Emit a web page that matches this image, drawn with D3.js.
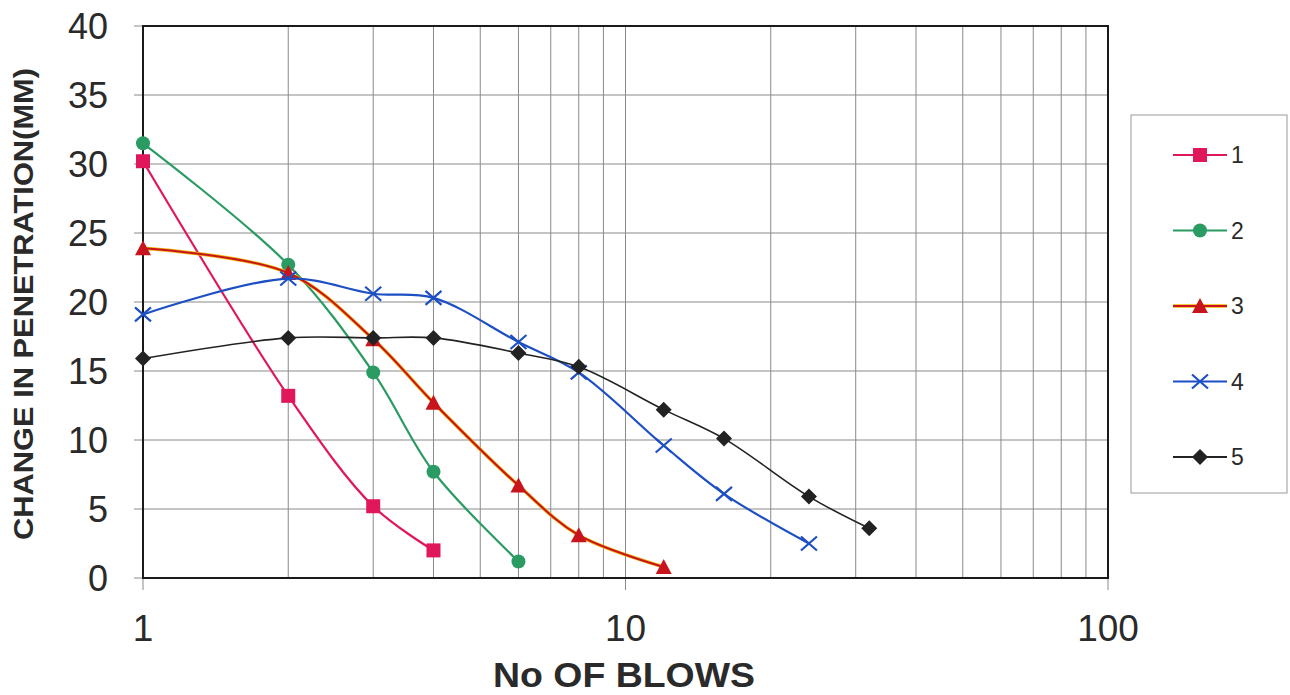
<!DOCTYPE html>
<html><head><meta charset="utf-8">
<script src="https://cdn.jsdelivr.net/npm/d3@7"></script>
<style>body{margin:0;background:#fff;}svg{display:block;font-family:"Liberation Sans",Arial,sans-serif;}</style>
</head><body>
<svg id="c" width="1290" height="695"></svg>
<script>
const blows1 = [1, 2, 3, 4];
const pen1 = [30.2, 13.2, 5.2, 2.0];
const blows2 = [1, 2, 3, 4, 6];
const pen2 = [31.5, 22.7, 14.9, 7.7, 1.2];
const blows3 = [1, 2, 3, 4, 6, 8, 12];
const pen3 = [23.9, 22.1, 17.3, 12.7, 6.7, 3.1, 0.8];
const blows4 = [1, 2, 3, 4, 6, 8, 12, 16, 24];
const pen4 = [19.1, 21.7, 20.6, 20.3, 17.1, 14.9, 9.6, 6.1, 2.5];
const blows5 = [1, 2, 3, 4, 6, 8, 12, 16, 24, 32];
const pen5 = [15.9, 17.4, 17.4, 17.4, 16.3, 15.3, 12.2, 10.1, 5.9, 3.6];
const seriesNames = ["1", "2", "3", "4", "5"];
const yTicks = [0, 5, 10, 15, 20, 25, 30, 35, 40];
const xTicks = [1, 10, 100];
const xTitle = "No OF BLOWS";
const yTitle = "CHANGE IN PENETRATION(MM)";

const svg = d3.select("#c");
const L = 143, R = 1108, T = 26, B = 578;
const x = d3.scaleLog().domain([1, 100]).range([L, R]);
const y = d3.scaleLinear().domain([0, 40]).range([B, T]);

const styles = [
  {color: "#e0175a", marker: "square"},
  {color: "#2a9b62", marker: "circle"},
  {color: "#c8141c", under: "#f0b400", marker: "triangle"},
  {color: "#1d4fc4", marker: "x"},
  {color: "#222222", marker: "diamond"}
];
const series = [
  [blows1, pen1], [blows2, pen2], [blows3, pen3], [blows4, pen4], [blows5, pen5]
].map((s, i) => ({name: seriesNames[i], pts: s[0].map((b, j) => [b, s[1][j]]), ...styles[i]}));

// grid
const minor = [];
for (let d = 1; d < 100; d *= 10) for (let k = 1; k <= 9; k++) minor.push(d * k);
minor.push(100);
const g = svg.append("g");
g.selectAll(".vg").data(minor).join("line")
  .attr("x1", d => x(d)).attr("x2", d => x(d))
  .attr("y1", T).attr("y2", d => xTicks.includes(d) ? B + 12 : B)
  .attr("stroke", "#8a8a8a").attr("stroke-width", 1);
g.selectAll(".hg").data(yTicks).join("line")
  .attr("x1", L - 9).attr("x2", R)
  .attr("y1", d => y(d)).attr("y2", d => y(d))
  .attr("stroke", "#8a8a8a").attr("stroke-width", 1);

// frame
svg.append("rect").attr("x", L).attr("y", T).attr("width", R - L).attr("height", B - T)
  .attr("fill", "none").attr("stroke", "#1a1a1a").attr("stroke-width", 2);

// tick labels
svg.selectAll(".yt").data(yTicks).join("text")
  .attr("x", 108).attr("y", d => y(d) + 12.5)
  .attr("text-anchor", "end").attr("font-size", 36).attr("fill", "#2a2a2a")
  .text(d => d);
svg.selectAll(".xt").data(xTicks).join("text")
  .attr("x", d => x(d)).attr("y", 641)
  .attr("text-anchor", "middle").attr("font-size", 37).attr("fill", "#2a2a2a")
  .text(d => d);

// titles
svg.append("text").attr("x", 624).attr("y", 687).attr("text-anchor", "middle")
  .attr("font-size", 35).attr("font-weight", "bold").attr("fill", "#2a2a2a")
  .attr("textLength", 262).attr("lengthAdjust", "spacingAndGlyphs").text(xTitle);
svg.append("text").attr("transform", "translate(33,304) rotate(-90)").attr("text-anchor", "middle")
  .attr("font-size", 28).attr("font-weight", "bold").attr("fill", "#2a2a2a")
  .attr("textLength", 472).attr("lengthAdjust", "spacingAndGlyphs").text(yTitle);

// lines
const line = d3.line().x(d => x(d[0])).y(d => y(d[1])).curve(d3.curveCatmullRom.alpha(0.5));

function drawMarker(sel, type, color, cx, cy) {
  if (type === "square") sel.append("rect").attr("x", cx - 7).attr("y", cy - 7).attr("width", 14).attr("height", 14).attr("fill", color);
  else if (type === "circle") sel.append("circle").attr("cx", cx).attr("cy", cy).attr("r", 7).attr("fill", color);
  else if (type === "triangle") sel.append("path").attr("d", `M${cx},${cy - 8}L${cx + 8},${cy + 7}L${cx - 8},${cy + 7}Z`).attr("fill", color);
  else if (type === "x") sel.append("path").attr("d", `M${cx - 8},${cy - 7}L${cx + 8},${cy + 7}M${cx - 8},${cy + 7}L${cx + 8},${cy - 7}`).attr("stroke", color).attr("stroke-width", 2.2).attr("fill", "none");
  else if (type === "diamond") sel.append("path").attr("d", `M${cx},${cy - 8}L${cx + 8},${cy}L${cx},${cy + 8}L${cx - 8},${cy}Z`).attr("fill", color);
}

series.forEach(s => {
  const gs = svg.append("g");
  if (s.under) gs.append("path").attr("d", line(s.pts)).attr("fill", "none").attr("stroke", s.under).attr("stroke-width", 3.5);
  gs.append("path").attr("d", line(s.pts)).attr("fill", "none").attr("stroke", s.color)
    .attr("stroke-width", s.under ? 2 : (s.marker === "diamond" ? 1.6 : 2.2));
  s.pts.forEach(p => drawMarker(gs, s.marker, s.color, x(p[0]), y(p[1])));
});

// legend
svg.append("rect").attr("x", 1131).attr("y", 115).attr("width", 156).attr("height", 378)
  .attr("fill", "#fff").attr("stroke", "#9a9a9a").attr("stroke-width", 1);
series.forEach((s, i) => {
  const ly = 155 + i * 75.5;
  const lg = svg.append("g");
  if (s.under) lg.append("line").attr("x1", 1173).attr("x2", 1227).attr("y1", ly).attr("y2", ly).attr("stroke", s.under).attr("stroke-width", 3.5);
  lg.append("line").attr("x1", 1173).attr("x2", 1227).attr("y1", ly).attr("y2", ly).attr("stroke", s.color).attr("stroke-width", s.under ? 2 : 2);
  drawMarker(lg, s.marker, s.color, 1200, ly);
  lg.append("text").attr("x", 1231).attr("y", ly + 8).attr("font-size", 23).attr("fill", "#2a2a2a").text(s.name);
});
</script>
</body></html>
